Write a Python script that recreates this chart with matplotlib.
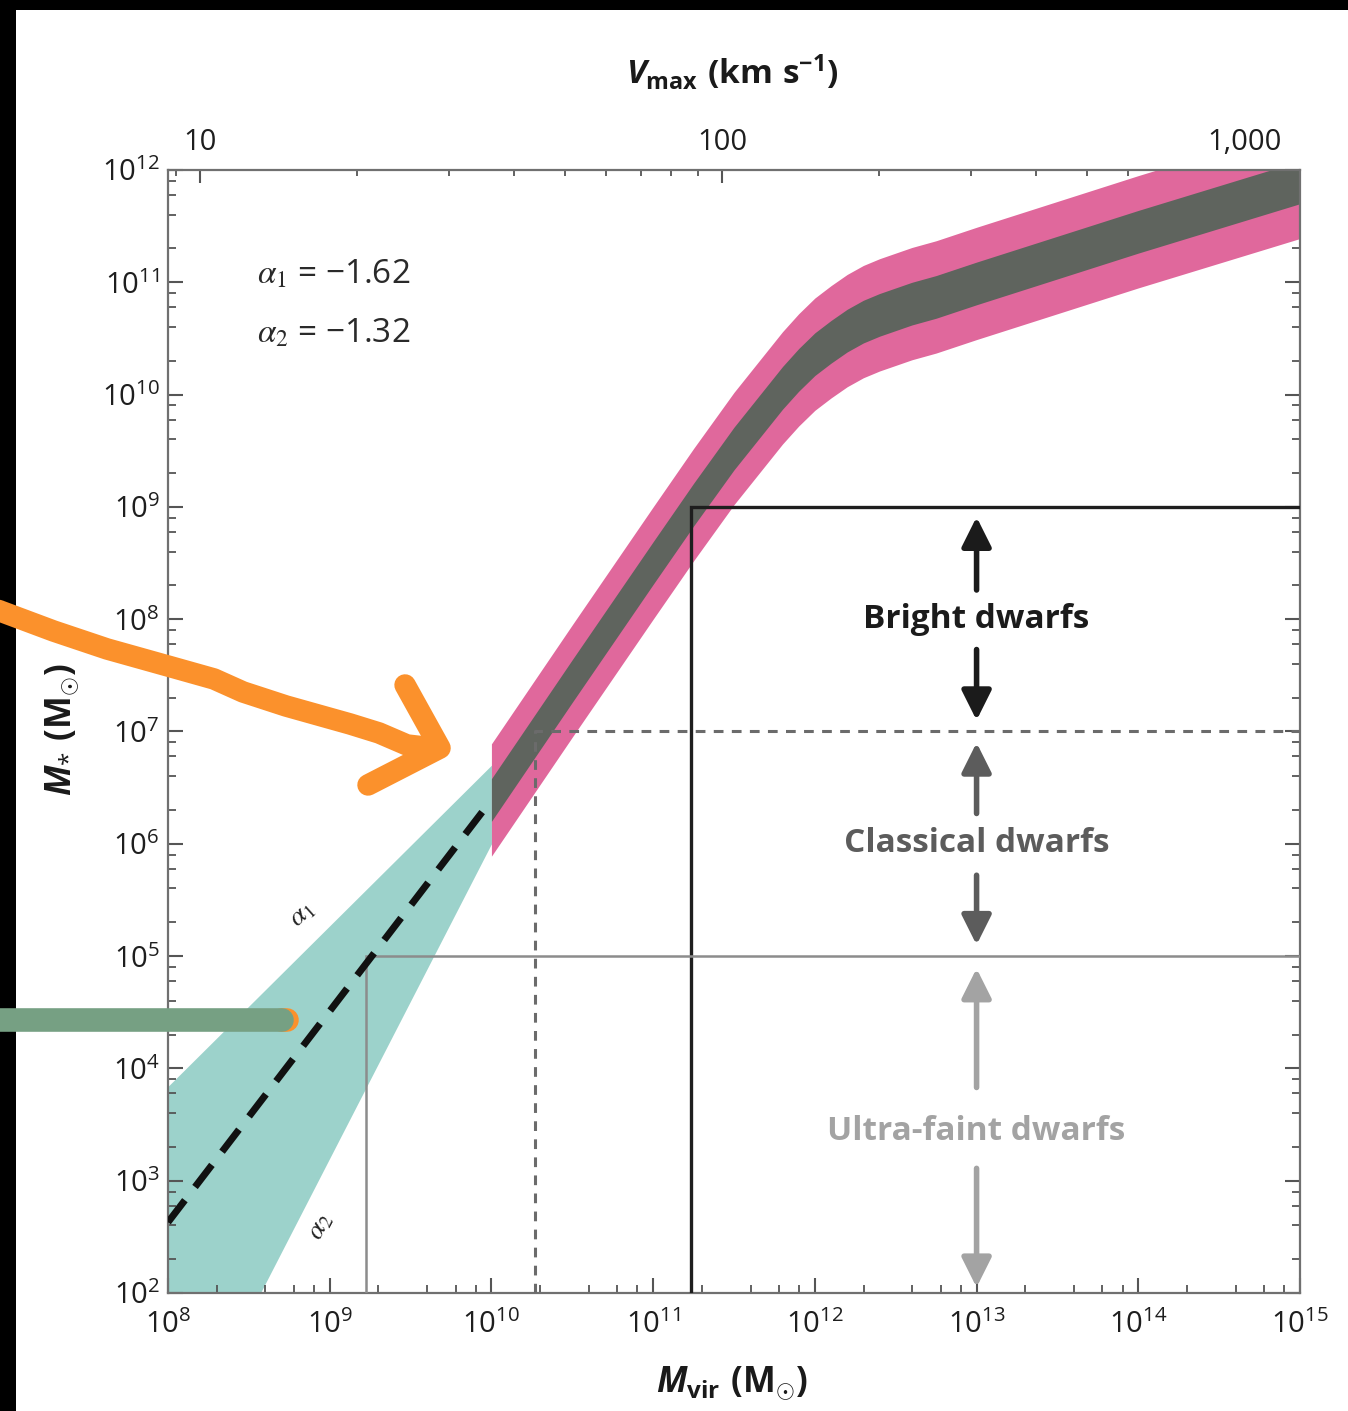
import numpy as np
import matplotlib.pyplot as plt
from matplotlib.patches import Rectangle
from matplotlib.ticker import FixedLocator, LogLocator, NullFormatter, FixedFormatter

plt.rcParams['font.family'] = ['Open Sans', 'DejaVu Sans']
plt.rcParams['mathtext.fontset'] = 'custom'
plt.rcParams['mathtext.rm'] = 'Open Sans'
plt.rcParams['mathtext.it'] = 'Open Sans:italic:bold'
plt.rcParams['mathtext.bf'] = 'Open Sans:bold'
plt.rcParams['lines.scale_dashes'] = False

# abundance-matching relation (log10 Mvir, log10 M*)
log_mvir_band = [10.0, 10.5, 11.0, 11.25, 11.5, 11.65, 11.8, 11.9, 12.0, 12.1, 12.2,
                 12.3, 12.4, 12.5, 12.6, 12.75, 13.0, 13.5, 14.0, 14.5, 15.0]
log_mstar_band = [6.39, 7.45, 8.50, 9.02, 9.52, 9.79, 10.06, 10.22, 10.36, 10.47, 10.57,
                  10.65, 10.71, 10.76, 10.81, 10.87, 10.99, 11.22, 11.45, 11.67, 11.89]
inner_scatter = 0.19
outer_scatter = 0.5

# low-mass extrapolation wedge between the two faint-end slopes
log_mvir_wedge = [8.0, 10.0]
log_mstar_wedge_hi = [3.84, 6.70]
log_mstar_wedge_lo = [0.4, 6.0]
log_mstar_fit = [2.63, 6.39]

alpha_values = [-1.62, -1.32]

# dwarf classes: name, halo mass threshold, stellar mass threshold
class_names = ['Bright dwarfs', 'Classical dwarfs', 'Ultra-faint dwarfs']
class_log_mvir = [11.235, 10.27, 9.224]
class_log_mstar = [9.0, 7.0, 5.0]
label_log_mvir = 13.0
label_log_mstar = [8.0, 6.0, 3.44]
arrow_up = [(8.26, 8.91), (6.27, 6.90), (3.83, 4.89)]
arrow_down = [(7.73, 7.10), (5.72, 5.10), (3.11, 2.05)]

# axis decades
mvir_decades = list(range(8, 16))
mstar_decades = list(range(2, 13))

# Vmax axis: Vmax = 10 km/s at log Mvir = 8.198, 3.228 dex of Mvir per dex of Vmax
vmax_ref_logm = 8.198
logm_per_dex_v = 3.228
vmax_ticks = [10, 100, 1000]
vmax_labels = ['10', '100', '1,000']

# hand-drawn highlight strokes (log Mvir, log M*)
orange_x = [6.85, 6.961, 7.292, 7.623, 8.0, 8.284, 8.464, 8.730, 9.126, 9.305, 9.478, 9.66]
orange_y = [8.15, 8.073, 7.895, 7.735, 7.583, 7.468, 7.352, 7.227, 7.067, 6.987, 6.880, 6.85]
orange_head_x = [9.466, 9.682, 9.237]
orange_head_y = [7.414, 6.853, 6.524]
green_x = [6.85, 8.705]
green_y = [4.431, 4.431]

pink = '#e0689c'
band_grey = '#5f645e'
teal = '#9cd2cb'
class_colors = ['#1b1b1b', '#5c5c5c', '#a3a3a3']
line_colors = ['#1e1e1e', '#6b6b6b', '#8c8c8c']


def mvir_to_vmax(m):
    m = np.asarray(m, dtype=float)
    with np.errstate(divide='ignore', invalid='ignore'):
        return 10 ** (1 + (np.log10(m) - vmax_ref_logm) / logm_per_dex_v)


def vmax_to_mvir(v):
    v = np.asarray(v, dtype=float)
    with np.errstate(divide='ignore', invalid='ignore'):
        return 10 ** (vmax_ref_logm + (np.log10(v) - 1) * logm_per_dex_v)


fig = plt.figure(figsize=(13.48, 14.11), dpi=100, facecolor='white')
fig.add_artist(Rectangle((0, 1 - 10 / 1411), 1, 10 / 1411, transform=fig.transFigure,
                         facecolor='black', edgecolor='none', zorder=-1))
fig.add_artist(Rectangle((0, 0), 16 / 1348, 1, transform=fig.transFigure,
                         facecolor='black', edgecolor='none', zorder=-1))

ax = fig.add_axes([168 / 1348, 1 - 1293 / 1411, 1132 / 1348, 1123 / 1411])
ax.set_xscale('log')
ax.set_yscale('log')
ax.set_xlim(10.0 ** mvir_decades[0], 10.0 ** mvir_decades[-1])
ax.set_ylim(10.0 ** mstar_decades[0], 10.0 ** mstar_decades[-1])

mvir = 10 ** np.array(log_mvir_band)
ms = np.array(log_mstar_band)
ax.fill_between(mvir, 10 ** (ms - outer_scatter), 10 ** (ms + outer_scatter),
                color=pink, lw=0, zorder=2)
ax.fill_between(mvir, 10 ** (ms - inner_scatter), 10 ** (ms + inner_scatter),
                color=band_grey, lw=0, zorder=2.1)

wx = 10 ** np.array(log_mvir_wedge)
ax.fill_between(wx, 10 ** np.array(log_mstar_wedge_lo), 10 ** np.array(log_mstar_wedge_hi),
                color=teal, lw=0, zorder=1)
ax.plot(wx, 10 ** np.array(log_mstar_fit), color='#111111', lw=5,
        dashes=(20, 12), dash_capstyle='butt', zorder=4)

# threshold boxes
xmin, xmax = ax.get_xlim()
ymin, ymax = ax.get_ylim()
styles = [dict(lw=2.4), dict(lw=2.2, dashes=(7, 6)), dict(lw=1.8)]
for lm, ls, c, st in zip(class_log_mvir, class_log_mstar, line_colors, styles):
    ax.plot([10 ** lm, 10 ** lm, xmax], [ymin, 10 ** ls, 10 ** ls], color=c,
            zorder=3, solid_joinstyle='miter', **st)

for name, c, ly, up, dn in zip(class_names, class_colors, label_log_mstar, arrow_up, arrow_down):
    xm = 10 ** label_log_mvir
    ax.text(xm, 10 ** ly, name, ha='center', va='center', fontsize=24,
            fontweight='bold', color=c, zorder=5)
    for tail, head in (up, dn):
        ax.annotate('', xy=(xm, 10 ** head), xytext=(xm, 10 ** tail),
                    arrowprops=dict(arrowstyle='-|>,head_length=0.9,head_width=0.45',
                                    mutation_scale=20, lw=4, color=c,
                                    shrinkA=0, shrinkB=0), zorder=5)

# slope annotations
for i, (a, ly) in enumerate(zip(alpha_values, [10.985, 10.46])):
    ax.text(10 ** 8.55, 10 ** ly, r'$\alpha_%d$ = ' % (i + 1) + '\u2212%.2f' % (-a),
            fontsize=24, ha='left', va='baseline', color='#2a2a2a', math_fontfamily='stix')
ax.text(10 ** 8.83, 10 ** 5.375, r'$\alpha_1$', rotation=42, fontsize=20, ha='center',
        va='center', color='#222222', math_fontfamily='stix', zorder=5)
ax.text(10 ** 8.94, 10 ** 2.59, r'$\alpha_2$', rotation=62, fontsize=20, ha='center',
        va='center', color='#222222', math_fontfamily='stix', zorder=5)

# ticks
for sp in ax.spines.values():
    sp.set_color('#707070')
    sp.set_linewidth(1.6)
ax.xaxis.set_major_locator(FixedLocator([10.0 ** d for d in mvir_decades]))
ax.yaxis.set_major_locator(FixedLocator([10.0 ** d for d in mstar_decades]))
ax.xaxis.set_minor_locator(LogLocator(base=10, subs=[2, 4, 6, 8]))
ax.yaxis.set_minor_locator(LogLocator(base=10, subs=[2, 4, 6, 8], numticks=20))
ax.xaxis.set_minor_formatter(NullFormatter())
ax.yaxis.set_minor_formatter(NullFormatter())
ax.tick_params(which='both', direction='in', top=False, right=True, color='#555555',
               labelcolor='#1e1e1e', labelsize=21)
ax.tick_params(which='major', length=11, width=1.5)
ax.tick_params(which='minor', length=5.5, width=1.3)
ax.tick_params(axis='x', which='major', pad=12)
ax.tick_params(axis='y', which='major', pad=6)

# top axis in Vmax
sec = ax.secondary_xaxis('top', functions=(mvir_to_vmax, vmax_to_mvir))
sec.xaxis.set_major_locator(FixedLocator(vmax_ticks))
sec.xaxis.set_major_formatter(FixedFormatter(vmax_labels))
sec.xaxis.set_minor_locator(LogLocator(base=10, subs=np.arange(2, 10)))
sec.xaxis.set_minor_formatter(NullFormatter())
sec.spines['top'].set_visible(False)
sec.tick_params(which='both', direction='in', color='#555555', labelcolor='#1e1e1e',
                labelsize=21)
sec.tick_params(which='major', length=9, width=1.5, pad=9)
sec.tick_params(which='minor', length=4, width=1.3)

# axis titles
fig.text(0.543, 0.0198, r'$\mathit{M}_{\mathbf{vir}}\ \mathbf{(M_{\odot})}$', fontsize=25,
         ha='center', va='center', color='#1a1a1a')
fig.text(0.543, 0.949, r'$\mathit{V}_{\mathbf{max}}\ \mathbf{(km\ s^{-1})}$', fontsize=24,
         ha='center', va='center', color='#1a1a1a')
fig.text(0.046, 0.4826, r'$\mathit{M}_{*}\ \mathbf{(M_{\odot})}$', fontsize=25, rotation=90,
         ha='center', va='center', color='#1a1a1a')

# highlight strokes
ax.plot(10 ** np.array(orange_x), 10 ** np.array(orange_y), color='#fb912c', lw=15.5,
        solid_capstyle='round', solid_joinstyle='round', clip_on=False, zorder=6)
ax.plot(10 ** np.array(orange_head_x), 10 ** np.array(orange_head_y), color='#fb912c', lw=15.5,
        solid_capstyle='round', solid_joinstyle='round', clip_on=False, zorder=6)
ax.plot([10 ** green_x[-1], 10 ** (green_x[-1] + 0.03)], [10 ** green_y[-1]] * 2,
        color='#fb912c', lw=17, solid_capstyle='round', clip_on=False, zorder=6)
ax.plot(10 ** np.array(green_x), 10 ** np.array(green_y), color='#76a083', lw=17,
        solid_capstyle='round', clip_on=False, zorder=6)

fig.savefig('out.png', dpi=100)
